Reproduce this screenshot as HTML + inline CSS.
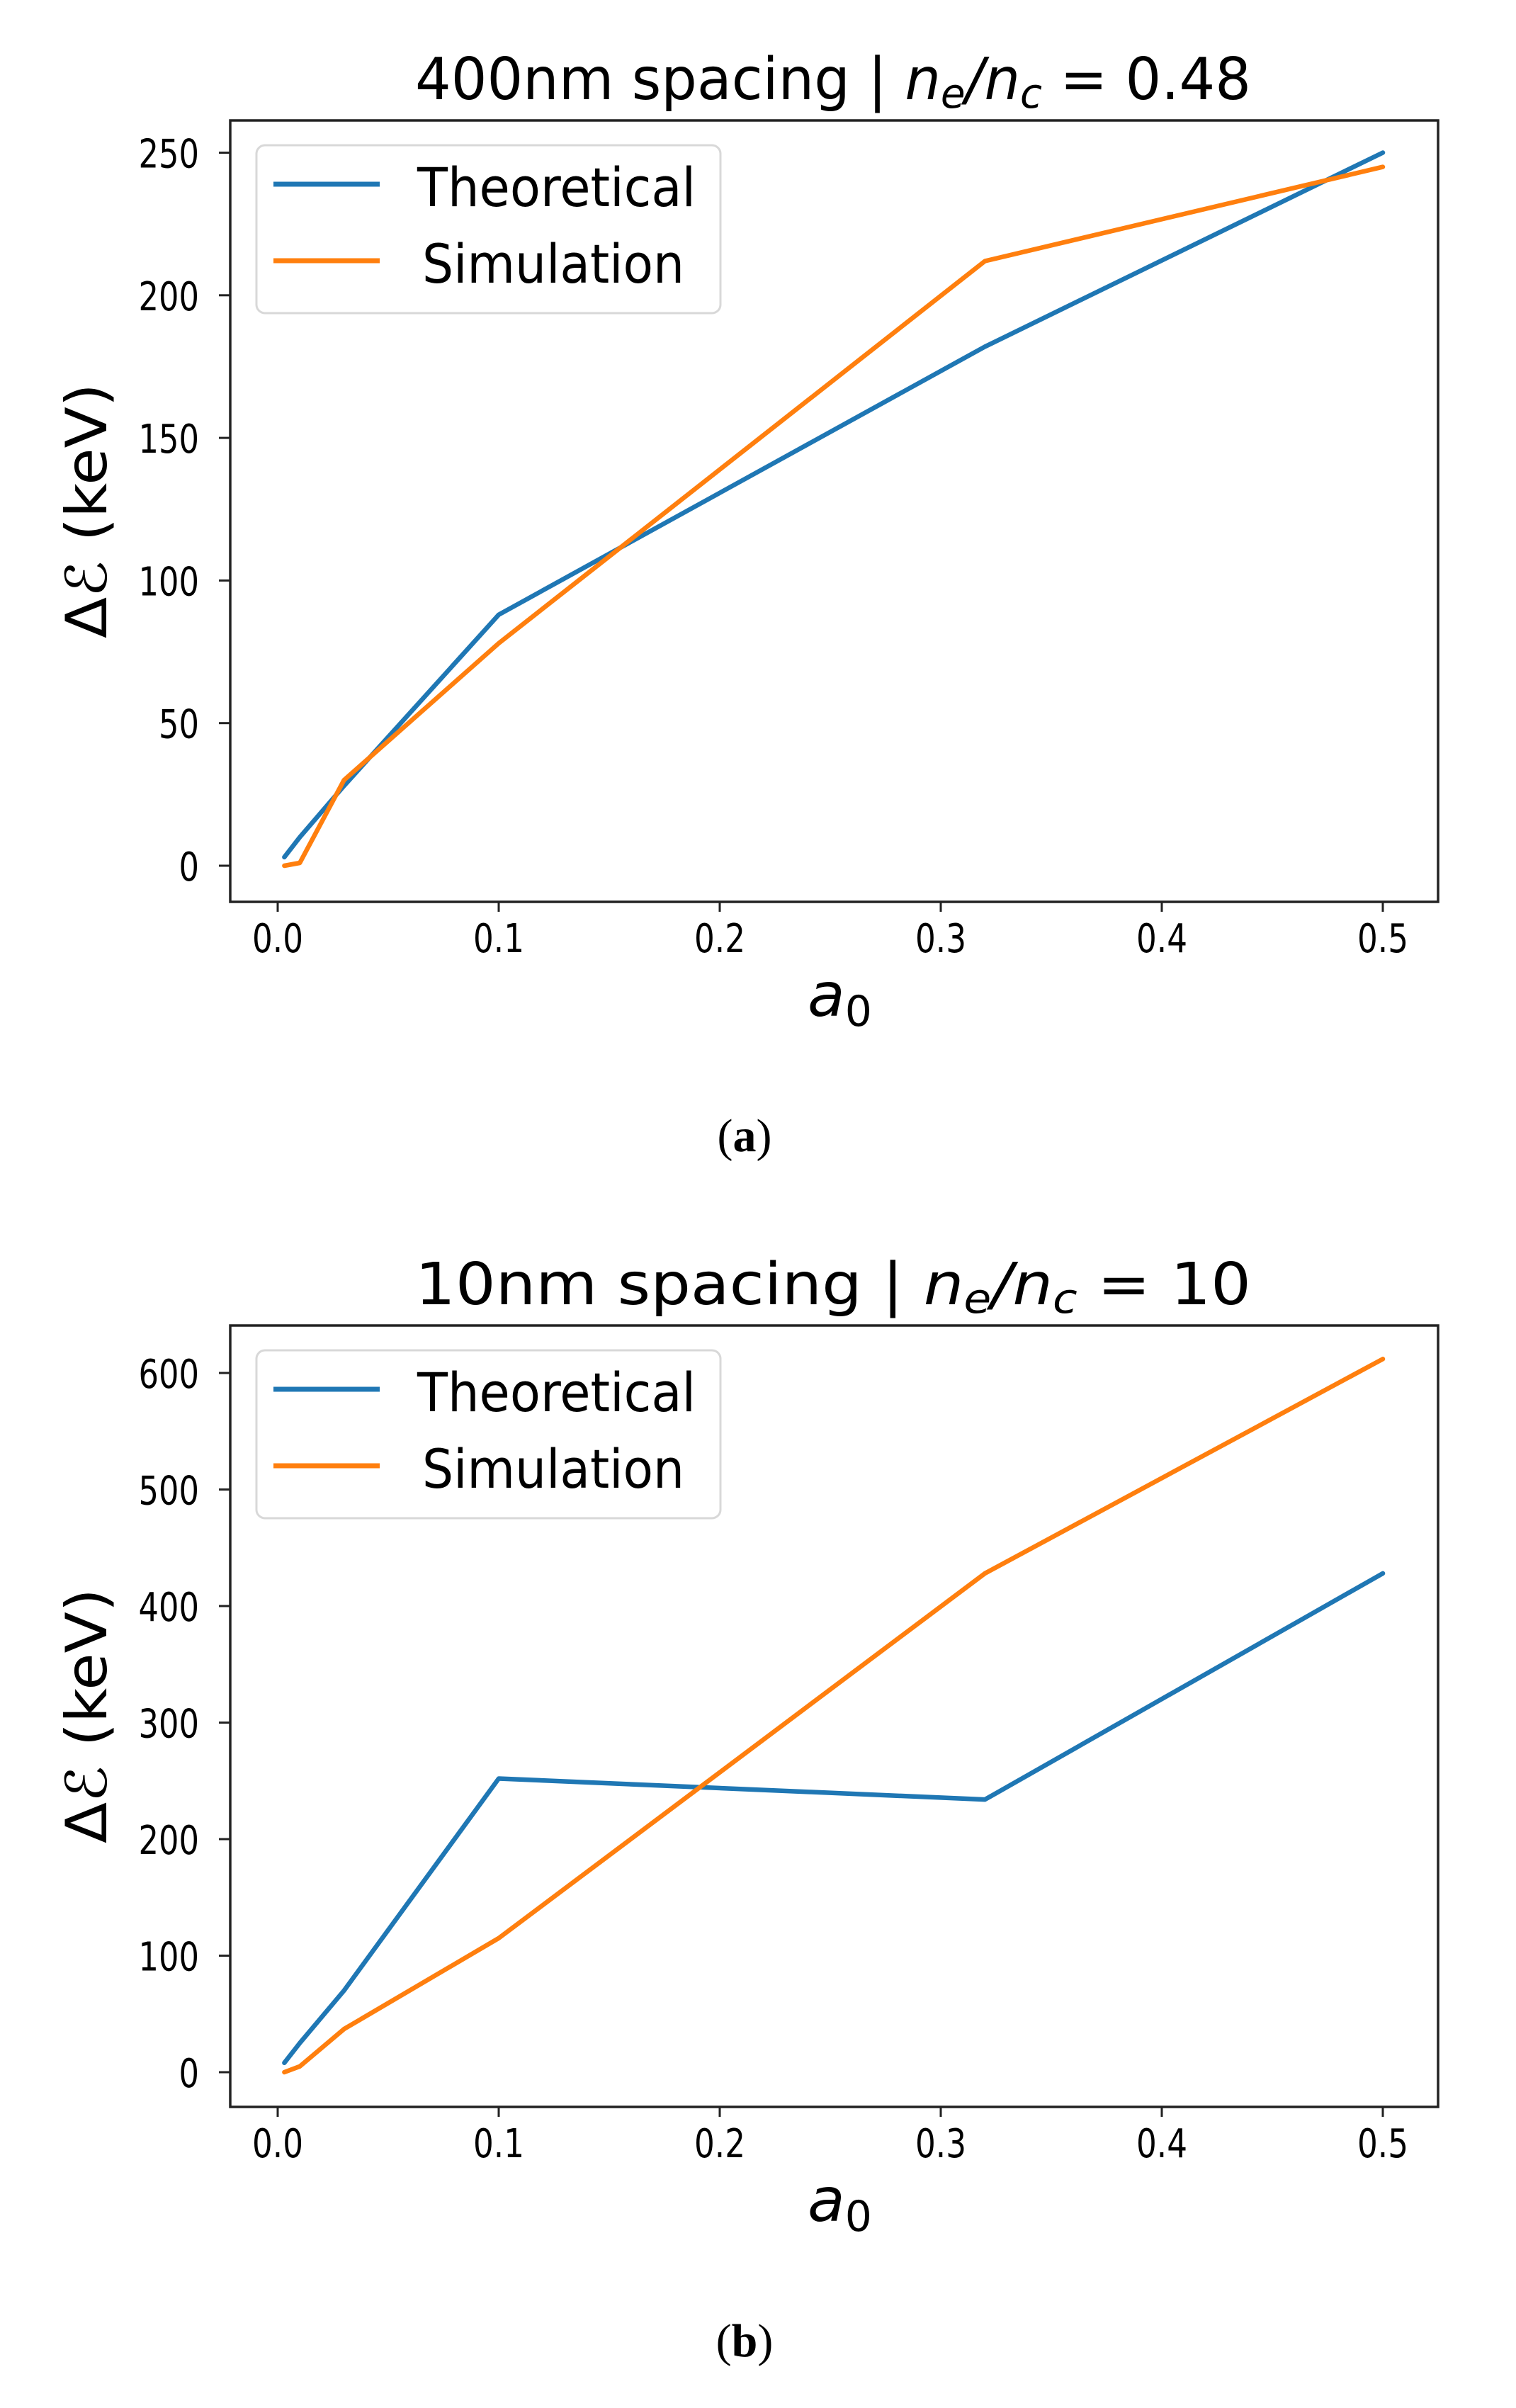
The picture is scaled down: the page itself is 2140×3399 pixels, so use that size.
<!DOCTYPE html>
<html><head><meta charset="utf-8"><style>
html,body{margin:0;padding:0;background:#fff;}
svg{display:block;}
text{font-family:"DejaVu Sans","Liberation Sans",sans-serif;fill:#000;}
</style></head><body>
<svg id="s" width="2140" height="3399" viewBox="0 0 2140 3399" xmlns="http://www.w3.org/2000/svg">
<rect width="2140" height="3399" fill="#fff"/>
</svg>
<script>
const NS="http://www.w3.org/2000/svg";
const svg=document.getElementById('s');
function el(tag,attrs,txt,parent){const e=document.createElementNS(NS,tag);for(const k in attrs)e.setAttribute(k,attrs[k]);if(txt!=null)e.textContent=txt;(parent||svg).appendChild(e);return e;}
function plot(o){
  const L=325,R=2030,T=o.top,B=o.top+1103;
  const x0=392,xs=312;
  const X=v=>x0+v*10*xs;
  const Y=v=>o.y0-v*o.ppu;
  const t=el('text',{x:1176,y:o.top-30,'text-anchor':'middle','font-size':82,textLength:1180,lengthAdjust:'spacingAndGlyphs'},null);
  el('tspan',{},o.title+' | ',t);
  el('tspan',{'font-style':'italic'},'n',t);
  el('tspan',{'font-style':'italic','font-size':58,dy:12},'e',t);
  el('tspan',{'font-style':'italic',dy:-12},'/n',t);
  el('tspan',{'font-style':'italic','font-size':58,dy:12},'c',t);
  el('tspan',{dy:-12},' = '+o.val,t);
  const pts=a=>a.map(p=>X(p[0]).toFixed(1)+','+Y(p[1]).toFixed(1)).join(' ');
  el('polyline',{points:pts(o.th),fill:'none',stroke:'#1f77b4','stroke-width':6.5,'stroke-linejoin':'round','stroke-linecap':'round'});
  el('polyline',{points:pts(o.sim),fill:'none',stroke:'#ff7f0e','stroke-width':6.5,'stroke-linejoin':'round','stroke-linecap':'round'});
  el('rect',{x:L,y:T,width:R-L,height:B-T,fill:'none',stroke:'#222','stroke-width':3.5});
  for(let i=0;i<=5;i++){const x=X(i/10);
    el('line',{x1:x,y1:B,x2:x,y2:B+14,stroke:'#222','stroke-width':3});
    el('text',{x:x,y:B+71,'text-anchor':'middle','font-size':56,textLength:72,lengthAdjust:'spacingAndGlyphs'},(i/10).toFixed(1));}
  o.yt.forEach(v=>{const y=Y(v);
    el('line',{x1:L-16,y1:y,x2:L,y2:y,stroke:'#222','stroke-width':3});
    const s=String(v);
    el('text',{x:281,y:y+21,'text-anchor':'end','font-size':56,textLength:s.length*28.5,lengthAdjust:'spacingAndGlyphs'},s);});
  const xl=el('text',{x:1140,y:T+1264,'font-size':86,'font-style':'italic'},'a');
  el('tspan',{'font-style':'normal','font-size':60,dy:14},'0',xl);
  el('text',{x:0,y:0,'font-size':80,'text-anchor':'middle',transform:`translate(150 ${T+551}) rotate(-90)`,textLength:360,lengthAdjust:'spacingAndGlyphs'},'Δℰ  (keV)');
  const lt=T+35;
  el('rect',{x:362,y:lt,width:655,height:237,rx:12,fill:'#fff','fill-opacity':0.8,stroke:'#d8d8d8','stroke-width':3});
  el('line',{x1:386,y1:lt+55,x2:536,y2:lt+55,stroke:'#1f77b4','stroke-width':7});
  el('line',{x1:386,y1:lt+163,x2:536,y2:lt+163,stroke:'#ff7f0e','stroke-width':7});
  el('text',{x:589,y:lt+86,'font-size':76,textLength:393,lengthAdjust:'spacingAndGlyphs'},'Theoretical');
  el('text',{x:596,y:lt+194,'font-size':76,textLength:370,lengthAdjust:'spacingAndGlyphs'},'Simulation');
  const c=el('text',{x:1051,y:o.cap,'text-anchor':'middle','font-size':66,style:'font-family:"Liberation Serif",serif'},'(');
  el('tspan',{'font-weight':'bold'},o.letter,c);
  el('tspan',{},')',c);
}
plot({top:170,y0:1222,ppu:4.026,title:'400nm spacing',val:'0.48',yt:[0,50,100,150,200,250],
  th:[[0.003,3],[0.01,10],[0.03,28],[0.1,88],[0.32,182],[0.5,250]],
  sim:[[0.003,0],[0.01,1],[0.03,30],[0.1,78],[0.32,212],[0.5,245]],cap:1625,letter:'a'});
plot({top:1871,y0:2925,ppu:1.645,title:'10nm spacing',val:'10',yt:[0,100,200,300,400,500,600],
  th:[[0.003,8],[0.01,25],[0.03,70],[0.1,252],[0.32,234],[0.5,428]],
  sim:[[0.003,0],[0.01,5],[0.03,37],[0.1,115],[0.32,428],[0.5,612]],cap:3326,letter:'b'});
</script>
</body></html>
